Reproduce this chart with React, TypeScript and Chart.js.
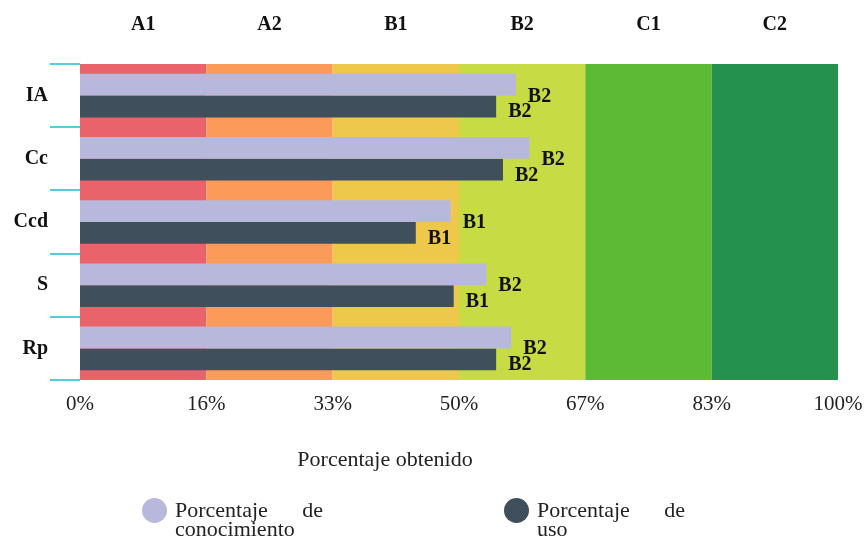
import React, { useEffect, useRef } from 'react';
import { Chart, registerables } from 'chart.js';

Chart.register(...registerables);

const categories = ['IA', 'Cc', 'Ccd', 'S', 'Rp'];
const conocimiento = [57.5, 59.3, 48.9, 53.6, 56.9];
const uso = [54.9, 55.8, 44.3, 49.3, 54.9];
const levels = ['A1', 'A2', 'B1', 'B2', 'C1', 'C2'];
const levelBounds = [0, 100 / 6, 200 / 6, 50, 400 / 6, 500 / 6, 100];
const tickLabels = ['0%', '16%', '33%', '50%', '67%', '83%', '100%'];
const bandColors = ['#e9646a', '#fc9a5a', '#eec84b', '#c6db44', '#5cba34', '#25914f'];
const seriesLabels = ['Porcentaje de conocimiento', 'Porcentaje de uso'];
const seriesColors = ['#b8b8dc', '#3f4f5b'];
const axisTitle = 'Porcentaje obtenido';

const SERIF = "'Liberation Serif', 'Times New Roman', serif";

function levelOf(v: number): string {
  let idx = 0;
  for (let i = 0; i < levels.length; i++) {
    if (v >= levelBounds[i]) idx = i;
  }
  return levels[idx];
}

const bandsPlugin = {
  id: 'bands',
  beforeDatasetsDraw(chart: any) {
    const { ctx, chartArea, scales } = chart;
    const x = scales.x;
    ctx.save();
    for (let i = 0; i < levels.length; i++) {
      const x0 = x.getPixelForValue(levelBounds[i]);
      const x1 = x.getPixelForValue(levelBounds[i + 1]);
      ctx.fillStyle = bandColors[i];
      ctx.fillRect(x0, chartArea.top, x1 - x0, chartArea.bottom - chartArea.top);
    }
    ctx.restore();
  },
};

const barLabelsPlugin = {
  id: 'barLabels',
  afterDatasetsDraw(chart: any) {
    const { ctx } = chart;
    ctx.save();
    ctx.font = `bold 20px ${SERIF}`;
    ctx.fillStyle = '#111';
    ctx.textAlign = 'left';
    ctx.textBaseline = 'alphabetic';
    chart.data.datasets.forEach((ds: any, di: number) => {
      const meta = chart.getDatasetMeta(di);
      meta.data.forEach((el: any, i: number) => {
        const { x, y, height } = el.getProps(['x', 'y', 'height'], true);
        const txt = levelOf(ds.data[i]);
        const off = di === 0 ? 6 : 0;
        ctx.fillText(txt, x + 12, y + height / 2 + off);
      });
    });
    ctx.restore();
  },
};

function drawJustified(ctx: any, text: string, x: number, y: number, maxW: number, lineH: number) {
  const words = text.split(' ');
  const lines: string[][] = [];
  let cur: string[] = [];
  words.forEach((w) => {
    const test = [...cur, w].join(' ');
    if (cur.length && ctx.measureText(test).width > maxW) {
      lines.push(cur);
      cur = [w];
    } else {
      cur.push(w);
    }
  });
  if (cur.length) lines.push(cur);
  lines.forEach((ln, li) => {
    const ly = y + li * lineH;
    if (li < lines.length - 1 && ln.length > 1) {
      const wordsW = ln.reduce((s, w) => s + ctx.measureText(w).width, 0);
      const gap = (maxW - wordsW) / (ln.length - 1);
      let cx = x;
      ln.forEach((w) => {
        ctx.fillText(w, cx, ly);
        cx += ctx.measureText(w).width + gap;
      });
    } else {
      ctx.fillText(ln.join(' '), x, ly);
    }
  });
}

const titleLegendPlugin = {
  id: 'titleLegend',
  afterDraw(chart: any) {
    const { ctx, chartArea } = chart;
    ctx.save();
    // axis title
    ctx.font = `22px ${SERIF}`;
    ctx.fillStyle = '#222';
    ctx.textAlign = 'center';
    ctx.textBaseline = 'alphabetic';
    ctx.fillText(axisTitle, chartArea.left + 305, 466);
    // legend
    const itemX = [142, 504];
    chart.data.datasets.forEach((ds: any, di: number) => {
      const cx = itemX[di] + 12.5;
      const cy = 510.5;
      ctx.beginPath();
      ctx.arc(cx, cy, 12.5, 0, Math.PI * 2);
      ctx.fillStyle = ds.backgroundColor;
      ctx.fill();
      ctx.fillStyle = '#222';
      ctx.textAlign = 'left';
      ctx.font = `22px ${SERIF}`;
      drawJustified(ctx, ds.label, itemX[di] + 33, 517, 148, 19);
    });
    ctx.restore();
  },
};

export default function App() {
  const ref = useRef<HTMLCanvasElement | null>(null);

  useEffect(() => {
    if (!ref.current) return;
    const chart = new Chart(ref.current, {
      type: 'bar',
      data: {
        labels: categories,
        datasets: [
          {
            label: seriesLabels[0],
            data: conocimiento,
            backgroundColor: seriesColors[0],
            borderWidth: 0,
            categoryPercentage: 0.69,
            barPercentage: 1,
          },
          {
            label: seriesLabels[1],
            data: uso,
            backgroundColor: seriesColors[1],
            borderWidth: 0,
            categoryPercentage: 0.69,
            barPercentage: 1,
          },
        ],
      },
      options: {
        indexAxis: 'y',
        animation: false,
        responsive: false,
        layout: { padding: { left: 0, right: 29, top: 0, bottom: 0 } },
        plugins: {
          legend: { display: false },
          tooltip: { enabled: false },
        },
        scales: {
          x: {
            type: 'linear',
            position: 'bottom',
            min: 0,
            max: 100,
            afterBuildTicks(scale: any) {
              scale.ticks = levelBounds.map((v) => ({ value: v }));
            },
            afterFit(scale: any) {
              scale.height = 160;
              scale.paddingLeft = 0;
              scale.paddingRight = 0;
            },
            grid: { display: false, drawTicks: false },
            border: { display: false },
            ticks: {
              padding: 12,
              color: '#222',
              font: { family: SERIF, size: 21 },
              maxRotation: 0,
              autoSkip: false,
              callback: (_v: any, i: number) => tickLabels[i],
            },
          },
          x2: {
            type: 'category',
            axis: 'x',
            position: 'top',
            labels: levels,
            offset: true,
            afterFit(scale: any) {
              scale.height = 64;
              scale.paddingLeft = 0;
              scale.paddingRight = 0;
            },
            grid: { display: false, drawTicks: false },
            border: { display: false },
            ticks: {
              padding: 27,
              color: '#111',
              font: { family: SERIF, size: 20, weight: 'bold' },
              maxRotation: 0,
              autoSkip: false,
            },
          },
          y: {
            type: 'category',
            offset: true,
            afterFit(scale: any) {
              scale.width = 80;
            },
            grid: {
              display: true,
              drawOnChartArea: false,
              drawTicks: true,
              tickLength: 30,
              color: '#4fd0dc',
              lineWidth: 2,
              offset: true,
            },
            border: { display: false },
            ticks: {
              padding: 2,
              color: '#111',
              font: { family: SERIF, size: 20, weight: 'bold' },
            },
          },
        },
      } as any,
      plugins: [bandsPlugin, barLabelsPlugin, titleLegendPlugin],
    });
    return () => chart.destroy();
  }, []);

  return (
    <div style={{ position: 'fixed', left: 0, top: 0, width: 867, height: 540, background: '#fff' }}>
      <canvas ref={ref} width={867} height={540} style={{ display: 'block' }} />
    </div>
  );
}
